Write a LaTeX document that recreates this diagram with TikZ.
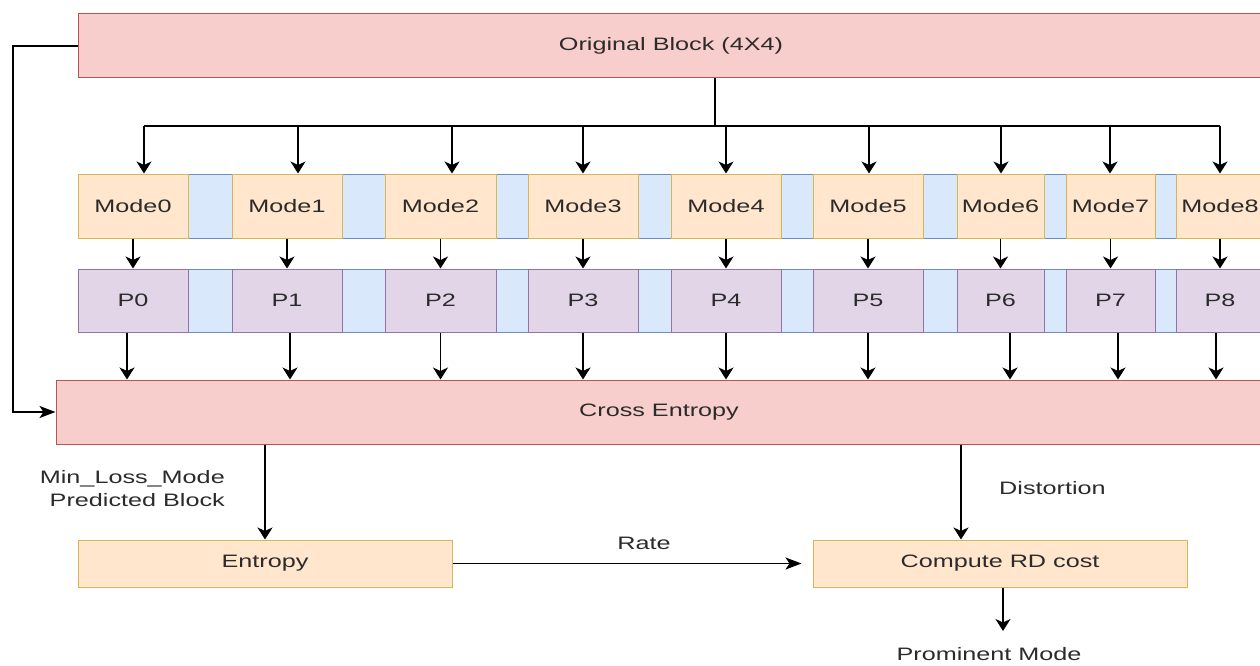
\documentclass[tikz,border=0pt]{standalone}
\usepackage{fontspec}
\setmainfont{Liberation Sans}[FakeStretch=1.4]
\usetikzlibrary{arrows.meta,calc}
\definecolor{pinkF}{HTML}{F8CECC}
\definecolor{pinkD}{HTML}{B85450}
\definecolor{orF}{HTML}{FFE6CC}
\definecolor{orD}{HTML}{D6B656}
\definecolor{puF}{HTML}{E1D5E7}
\definecolor{puD}{HTML}{9673A6}
\definecolor{blF}{HTML}{DAE8FC}
\definecolor{blD}{HTML}{6C8EBF}
\definecolor{txt}{HTML}{2B2B2B}
\tikzset{
  base/.style={rectangle, inner sep=0pt, line width=1pt, text=txt, font=\fontsize{18}{23}\selectfont},
  pinkbox/.style={base, draw=pinkD, fill=pinkF, minimum height=64pt},
  modebox/.style={base, draw=orD, fill=orF, minimum height=64pt},
  pbox/.style={base, draw=puD, fill=puF, minimum height=63pt},
  gapbox/.style={base, draw=blD, fill=blF},
  lowbox/.style={base, draw=orD, fill=orF, minimum height=47pt},
  lbl/.style={inner sep=0pt, text=txt, font=\fontsize{18}{23}\selectfont},
  ln/.style={line width=1.6pt, black},
  arr/.style={ln, -{Stealth[length=12pt,width=15pt,inset=3.5pt]}},
  harr/.style={ln, -{Stealth[length=16pt,width=12pt,inset=4pt]}}
}
\begin{document}
\begin{tikzpicture}[x=1pt,y=-1pt]
\useasboundingbox (0,0) rectangle (1260,666);
\clip (0,0) rectangle (1260,666);
\fill[white] (0,0) rectangle (1260,666);

% top block
\node[pinkbox, minimum width=1186pt] (ob) at (671,46) {Original Block (4X4)};
% cross entropy
\node[pinkbox, minimum width=1206pt] (ce) at (659,412) {Cross Entropy};

% gaps
\foreach \ga/\gb [count=\k] in {188/232,342/385,496/528,638/671,781/813,923/957,1044/1066,1155/1176}{
  \pgfmathsetmacro\gxc{(\ga+\gb)/2}
  \pgfmathsetmacro\gxw{\gb-\ga}
  \node[gapbox, minimum width=\gxw pt, minimum height=64pt] (gm\k) at (\gxc,206) {};
  \node[gapbox, minimum width=\gxw pt, minimum height=63pt] (gp\k) at (\gxc,300.5) {};
}
% modes and predictions
\foreach \i/\ba/\bb in {0/78/188,1/232/342,2/385/496,3/528/638,4/671/781,5/813/923,6/957/1044,7/1066/1155,8/1176/1264}{
  \pgfmathsetmacro\bxc{(\ba+\bb)/2}
  \pgfmathsetmacro\bxw{\bb-\ba}
  \node[modebox, minimum width=\bxw pt] (m\i) at (\bxc,206) {Mode\i};
  \node[pbox, minimum width=\bxw pt] (p\i) at (\bxc,300.5) {P\i};
}

% bottom boxes
\node[lowbox, minimum width=374pt] (en) at (265,563.5) {Entropy};
\node[lowbox, minimum width=374pt] (rd) at (1000,563.5) {Compute RD cost};

% labels
\node[lbl, anchor=east, align=right] (mlm) at (225,488.5) {Min\_Loss\_Mode\\Predicted Block};
\node[lbl, anchor=west] (dist) at (999,488) {Distortion};
\node[lbl] (rate) at (644,543) {Rate};
\node[lbl] (pm) at (989,654) {Prominent Mode};

% coordinates
\coordinate (bj) at (715,126);
\coordinate (lk) at (13,0);
\coordinate (pmEnd) at (1003,631);

% branch from original block
\draw[ln] ([xshift=44pt]ob.south) -- (bj);
\draw[ln] ([xshift=11pt]m0.north |- bj) -- (m8.north |- bj);
\foreach \i/\dx in {0/11,1/11,2/11.5,3/0,4/0,5/1,6/0.5,7/-0.5,8/0}{
  \draw[arr] ([xshift=\dx pt]m\i.north |- bj) -- ([xshift=\dx pt]m\i.north);
}
% modes to predictions
\foreach \i in {0,...,8}{
  \draw[arr] (m\i.south) -- (p\i.north);
}
% predictions to cross entropy
\foreach \i/\dx in {0/-6,1/3,2/0,3/0,4/0,5/0,6/9.5,7/7.5,8/-4}{
  \draw[arr] ([xshift=\dx pt]p\i.south) -- ([xshift=\dx pt]p\i.south |- ce.north);
}
% left loop
\draw[harr] (ob.west) -- (ob.west -| lk) -- (ce.west -| lk) -- (ce.west);
% cross entropy to entropy
\draw[arr] (ce.south -| en.north) -- (en.north);
% distortion
\draw[arr] ([xshift=-39pt]rd.north |- ce.south) -- ([xshift=-39pt]rd.north);
% rate
\draw[harr, shorten >=11pt] (en.east) -- (rd.west);
% prominent mode
\draw[arr] ([xshift=3pt]rd.south) -- (pmEnd);
\end{tikzpicture}
\end{document}
